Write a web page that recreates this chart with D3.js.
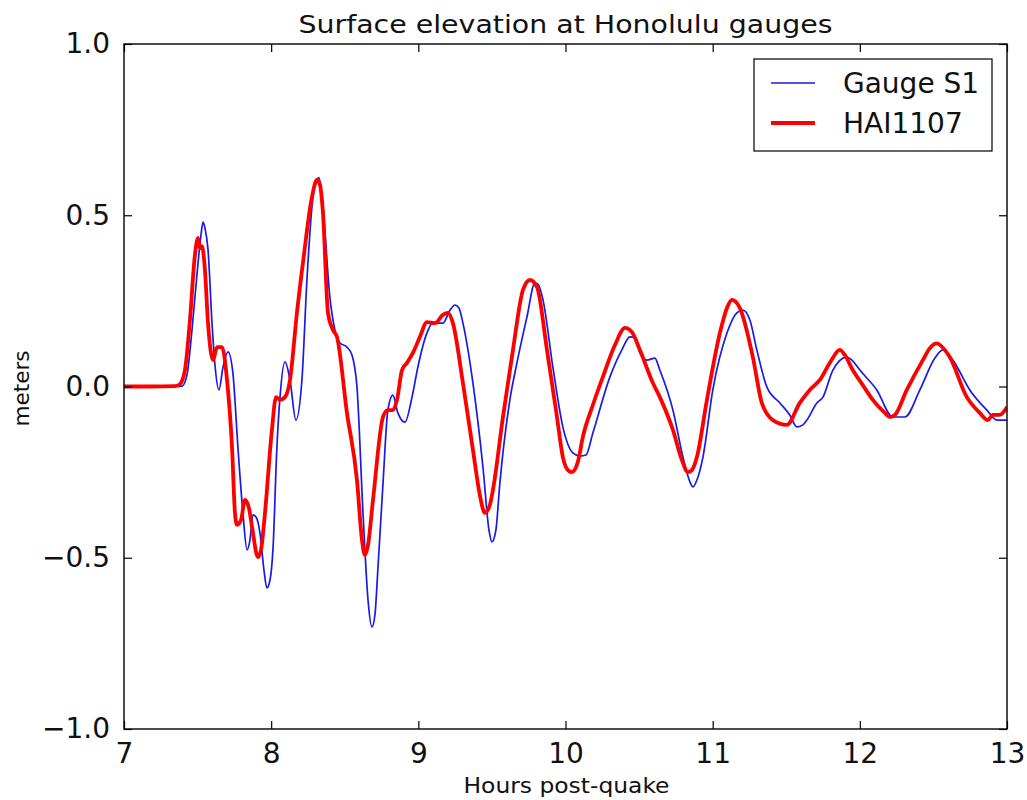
<!DOCTYPE html>
<html>
<head>
<meta charset="utf-8">
<script src="https://cdn.jsdelivr.net/npm/d3@7"></script>
<style>
  html, body { margin: 0; padding: 0; background: #ffffff; }
  svg { display: block; }
  text { font-family: "DejaVu Sans", sans-serif; fill: #111; }
</style>
</head>
<body>
<script>
// Gauge S1 record: hours after the quake and surface elevation (m)
const gaugeHours = [7.0, 7.367, 7.394, 7.428, 7.462, 7.503, 7.523, 7.537, 7.55, 7.571, 7.598, 7.618, 7.645, 7.673, 7.707, 7.74, 7.774, 7.808, 7.836, 7.856, 7.876, 7.897, 7.924, 7.951, 7.971, 7.992, 8.012, 8.039, 8.06, 8.094, 8.128, 8.168, 8.209, 8.243, 8.284, 8.311, 8.325, 8.352, 8.399, 8.433, 8.467, 8.515, 8.549, 8.583, 8.624, 8.658, 8.685, 8.705, 8.726, 8.76, 8.793, 8.827, 8.861, 8.909, 8.957, 8.997, 9.058, 9.099, 9.167, 9.215, 9.249, 9.276, 9.303, 9.371, 9.439, 9.48, 9.5, 9.527, 9.554, 9.622, 9.67, 9.738, 9.792, 9.813, 9.847, 9.914, 9.982, 10.05, 10.098, 10.139, 10.186, 10.302, 10.383, 10.438, 10.478, 10.505, 10.553, 10.607, 10.641, 10.73, 10.798, 10.846, 10.866, 10.893, 10.934, 11.001, 11.097, 11.164, 11.205, 11.253, 11.3, 11.368, 11.457, 11.524, 11.572, 11.613, 11.64, 11.708, 11.749, 11.817, 11.912, 11.946, 12.0, 12.115, 12.224, 12.306, 12.408, 12.51, 12.564, 12.632, 12.747, 12.863, 12.931, 13.0];
const gaugeElev = [0, 0, 0.001, 0.034, 0.165, 0.361, 0.442, 0.48, 0.463, 0.399, 0.185, 0.063, -0.01, 0.057, 0.101, 0.039, -0.177, -0.369, -0.477, -0.448, -0.375, -0.381, -0.428, -0.536, -0.588, -0.565, -0.477, -0.177, -0.031, 0.072, 0.019, -0.098, 0.019, 0.311, 0.553, 0.603, 0.61, 0.524, 0.261, 0.165, 0.127, 0.115, 0.092, -0.001, -0.369, -0.623, -0.702, -0.667, -0.527, -0.282, -0.069, -0.025, -0.077, -0.104, -0.031, 0.057, 0.156, 0.185, 0.185, 0.223, 0.238, 0.229, 0.185, 0.01, -0.235, -0.419, -0.454, -0.419, -0.282, -0.039, 0.069, 0.203, 0.302, 0.299, 0.253, 0.057, -0.118, -0.194, -0.203, -0.2, -0.136, 0.028, 0.107, 0.145, 0.142, 0.098, 0.077, 0.083, 0.048, -0.069, -0.206, -0.279, -0.293, -0.273, -0.206, -0.01, 0.156, 0.215, 0.223, 0.194, 0.107, -0.001, -0.048, -0.083, -0.118, -0.112, -0.098, -0.048, -0.031, 0.048, 0.086, 0.077, 0.048, -0.01, -0.089, -0.089, -0.01, 0.083, 0.107, 0.077, -0.01, -0.069, -0.098, -0.098];

// HAI1107 record: hours after the quake and surface elevation (m)
const haiHours = [7.0, 7.177, 7.346, 7.38, 7.414, 7.448, 7.482, 7.503, 7.516, 7.53, 7.55, 7.571, 7.605, 7.632, 7.666, 7.7, 7.734, 7.754, 7.768, 7.795, 7.822, 7.849, 7.87, 7.91, 7.931, 7.958, 8.005, 8.033, 8.06, 8.094, 8.128, 8.175, 8.216, 8.277, 8.311, 8.332, 8.352, 8.386, 8.42, 8.447, 8.515, 8.583, 8.617, 8.637, 8.658, 8.692, 8.76, 8.793, 8.827, 8.855, 8.889, 8.923, 8.963, 9.011, 9.058, 9.113, 9.167, 9.201, 9.235, 9.303, 9.371, 9.418, 9.452, 9.486, 9.507, 9.575, 9.643, 9.711, 9.758, 9.806, 9.874, 9.942, 9.982, 10.016, 10.043, 10.084, 10.118, 10.186, 10.254, 10.336, 10.404, 10.451, 10.505, 10.594, 10.641, 10.73, 10.791, 10.832, 10.859, 10.893, 10.961, 11.049, 11.097, 11.13, 11.185, 11.273, 11.334, 11.409, 11.504, 11.592, 11.66, 11.728, 11.796, 11.864, 11.898, 11.952, 12.02, 12.088, 12.17, 12.204, 12.238, 12.319, 12.428, 12.476, 12.523, 12.577, 12.611, 12.727, 12.815, 12.87, 12.904, 12.951, 13.0];
const haiElev = [0, 0, 0.001, 0.007, 0.048, 0.194, 0.384, 0.434, 0.404, 0.41, 0.34, 0.185, 0.077, 0.115, 0.115, 0.019, -0.177, -0.369, -0.404, -0.39, -0.331, -0.355, -0.41, -0.498, -0.477, -0.369, -0.127, -0.031, -0.039, -0.031, 0.019, 0.215, 0.361, 0.553, 0.603, 0.588, 0.507, 0.215, 0.165, 0.145, -0.077, -0.273, -0.448, -0.492, -0.463, -0.331, -0.089, -0.069, -0.069, -0.039, 0.048, 0.069, 0.098, 0.145, 0.188, 0.185, 0.209, 0.215, 0.185, 0.01, -0.185, -0.317, -0.369, -0.346, -0.302, -0.089, 0.107, 0.282, 0.311, 0.291, 0.107, -0.089, -0.206, -0.244, -0.25, -0.22, -0.147, -0.054, 0.028, 0.121, 0.171, 0.159, 0.107, 0.01, -0.031, -0.127, -0.215, -0.25, -0.244, -0.206, -0.039, 0.156, 0.229, 0.253, 0.229, 0.086, -0.048, -0.098, -0.112, -0.048, -0.01, 0.019, 0.069, 0.107, 0.092, 0.048, 0.004, -0.039, -0.077, -0.089, -0.083, -0.01, 0.077, 0.112, 0.126, 0.107, 0.086, -0.031, -0.077, -0.098, -0.083, -0.083, -0.06];

const xTicks = [7, 8, 9, 10, 11, 12, 13];
const yTicks = [-1.0, -0.5, 0.0, 0.5, 1.0];
const seriesNames = ["Gauge S1", "HAI1107"];

const W = 1027, H = 800;
const M = { left: 124, right: 20, top: 44, bottom: 71 };
const plotW = W - M.left - M.right;
const plotH = H - M.top - M.bottom;

const svg = d3.select("body").append("svg").attr("width", W).attr("height", H);

const x = d3.scaleLinear().domain([7, 13]).range([M.left, M.left + plotW]);
const y = d3.scaleLinear().domain([-1, 1]).range([M.top + plotH, M.top]);

svg.append("clipPath").attr("id", "plot-clip")
  .append("rect").attr("x", M.left).attr("y", M.top).attr("width", plotW).attr("height", plotH);

const line = d3.line()
  .x(d => x(d[0]))
  .y(d => y(d[1]))
  .curve(d3.curveMonotoneX);

const gaugeData = gaugeHours.map((h, i) => [h, gaugeElev[i]]);
const haiData = haiHours.map((h, i) => [h, haiElev[i]]);

const lines = svg.append("g").attr("clip-path", "url(#plot-clip)");
lines.append("path").datum(gaugeData)
  .attr("d", line).attr("fill", "none")
  .attr("stroke", "#1a1ae6").attr("stroke-width", 1.7)
  .attr("stroke-linejoin", "round");
lines.append("path").datum(haiData)
  .attr("d", line).attr("fill", "none")
  .attr("stroke", "#ff0000").attr("stroke-width", 3.8)
  .attr("stroke-linejoin", "round");

// Axes: ticks point inward on all four sides
const tickLen = 8;
const fmtY = v => (v < 0 ? "\u2212" : "") + Math.abs(v).toFixed(1);

const axisB = d3.axisBottom(x).tickValues(xTicks).tickSizeInner(-tickLen).tickSizeOuter(0)
  .tickPadding(14).tickFormat(d3.format("d"));
const axisT = d3.axisTop(x).tickValues(xTicks).tickSizeInner(-tickLen).tickSizeOuter(0).tickFormat("");
const axisL = d3.axisLeft(y).tickValues(yTicks).tickSizeInner(-tickLen).tickSizeOuter(0)
  .tickPadding(14).tickFormat(fmtY);
const axisR = d3.axisRight(y).tickValues(yTicks).tickSizeInner(-tickLen).tickSizeOuter(0).tickFormat("");

function styleAxis(g) {
  g.select(".domain").remove();
  g.selectAll(".tick line").attr("stroke", "#000").attr("stroke-width", 1.2);
  g.selectAll(".tick text").attr("font-family", "DejaVu Sans").attr("font-size", 28).attr("fill", "#111");
}

svg.append("g").attr("transform", `translate(0,${M.top + plotH})`).call(axisB).call(styleAxis);
svg.append("g").attr("transform", `translate(0,${M.top})`).call(axisT).call(styleAxis);
svg.append("g").attr("transform", `translate(${M.left},0)`).call(axisL).call(styleAxis);
svg.append("g").attr("transform", `translate(${M.left + plotW},0)`).call(axisR).call(styleAxis);

// Frame
svg.append("rect").attr("x", M.left).attr("y", M.top).attr("width", plotW).attr("height", plotH)
  .attr("fill", "none").attr("stroke", "#000").attr("stroke-width", 1.4);

// Title and axis labels (slightly widened glyphs)
svg.append("text").attr("x", M.left + plotW / 2).attr("y", 33)
  .attr("text-anchor", "middle").attr("font-size", 25)
  .attr("textLength", 534).attr("lengthAdjust", "spacingAndGlyphs")
  .text("Surface elevation at Honolulu gauges");
svg.append("text").attr("x", M.left + plotW / 2 + 1).attr("y", 793)
  .attr("text-anchor", "middle").attr("font-size", 22)
  .attr("textLength", 206).attr("lengthAdjust", "spacingAndGlyphs")
  .text("Hours post-quake");
svg.append("text")
  .attr("transform", `translate(29,${M.top + plotH / 2 + 2}) rotate(-90)`)
  .attr("text-anchor", "middle").attr("font-size", 22)
  .attr("textLength", 76).attr("lengthAdjust", "spacingAndGlyphs")
  .text("meters");

// Legend
const lg = svg.append("g");
lg.append("rect").attr("x", 754).attr("y", 59).attr("width", 238).attr("height", 92)
  .attr("fill", "#fff").attr("stroke", "#000").attr("stroke-width", 1.2);
const legendItems = [
  { name: seriesNames[0], color: "#1a1ae6", width: 1.7, yy: 83 },
  { name: seriesNames[1], color: "#ff0000", width: 3.8, yy: 123 }
];
legendItems.forEach(it => {
  lg.append("line").attr("x1", 771).attr("x2", 815).attr("y1", it.yy).attr("y2", it.yy)
    .attr("stroke", it.color).attr("stroke-width", it.width);
  lg.append("text").attr("x", 843).attr("y", it.yy + 10).attr("font-size", 28).text(it.name);
});
</script>
</body>
</html>
